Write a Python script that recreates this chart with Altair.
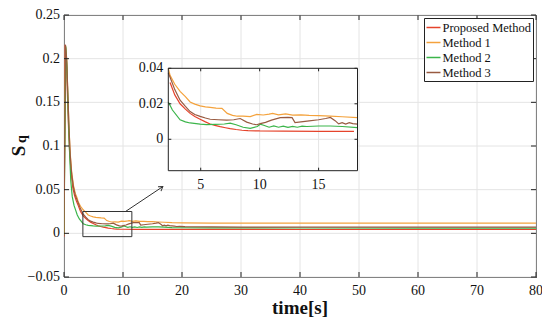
import altair as alt
import pandas as pd

# ---------------- data ----------------
SERIES = ["Proposed Method", "Method 1", "Method 2", "Method 3"]
COLORS = ["#e5432b", "#f4a23c", "#3bb54a", "#985a40"]

t_prop = [0, 0.2, 0.4, 0.6, 0.8, 1.0, 1.2, 1.5, 1.8, 2.1, 2.4, 2.8, 3.25, 3.7, 4.1, 4.5, 4.95,
          5.4, 5.8, 6.2, 6.65, 7.1, 7.5, 8.0, 8.5, 9.0, 10, 12, 15, 18, 25, 40, 60, 80]
v_prop = [-0.004, 0.216, 0.2, 0.155, 0.115, 0.088, 0.07, 0.052, 0.043, 0.037, 0.032, 0.025, 0.020,
          0.017, 0.0146, 0.0128, 0.0113, 0.0098, 0.0086, 0.0078, 0.0071, 0.0065, 0.006, 0.0055,
          0.0051, 0.0049, 0.0047, 0.0046, 0.0045, 0.0045, 0.0045, 0.0044, 0.0044, 0.0044]

t_m1 = [0, 0.25, 0.45, 0.65, 0.85, 1.05, 1.3, 1.6, 1.9, 2.25, 2.4, 2.8, 3.25, 3.7, 4.1, 4.5, 4.95,
        5.4, 5.8, 6.3, 6.8, 7.25, 7.7, 8.1, 8.6, 9.2, 9.75, 10.3, 10.8, 11.1, 11.6, 12.2, 12.8,
        13.5, 14.2, 15, 16, 17, 18.3, 20, 25, 30, 40, 60, 80]
v_m1 = [-0.002, 0.215, 0.2, 0.16, 0.12, 0.092, 0.07, 0.055, 0.046, 0.04, 0.036, 0.031, 0.027,
        0.024, 0.021, 0.0198, 0.0188, 0.0183, 0.018, 0.0176, 0.0174, 0.0146, 0.0135, 0.013,
        0.0131, 0.0128, 0.014, 0.0137, 0.0142, 0.0146, 0.0138, 0.0143, 0.0136, 0.0138, 0.0135,
        0.0133, 0.013, 0.0127, 0.0122, 0.012, 0.0118, 0.0117, 0.0117, 0.0116, 0.0116]

t_m2 = [0, 0.3, 0.5, 0.7, 0.9, 1.15, 1.4, 1.7, 2.0, 2.25, 2.6, 3.25, 3.7, 4.1, 4.95, 5.5, 6.2,
        7.0, 7.5, 8.0, 8.6, 9.2, 9.8, 10.05, 10.4, 10.8, 11.2, 11.6, 12.0, 12.4, 12.8, 13.2,
        13.6, 14, 15, 16, 17, 18.3, 20, 25, 30, 40, 60, 80]
v_m2 = [-0.002, 0.214, 0.19, 0.14, 0.1, 0.06, 0.042, 0.032, 0.026, 0.021, 0.0165, 0.011, 0.0098,
        0.0092, 0.0085, 0.0083, 0.0084, 0.0086, 0.0091, 0.0082, 0.0068, 0.0062, 0.0072, 0.0085,
        0.0078, 0.0068, 0.0075, 0.0068, 0.0074, 0.0067, 0.0073, 0.0068, 0.0074, 0.0072, 0.0075,
        0.0075, 0.0072, 0.0066, 0.0064, 0.0062, 0.0062, 0.0061, 0.006, 0.006]

t_m3 = [0, 0.25, 0.45, 0.65, 0.85, 1.05, 1.3, 1.6, 1.9, 2.25, 2.4, 2.8, 3.25, 3.7, 4.1, 4.5, 4.95,
        5.4, 5.8, 6.5, 7.2, 7.8, 8.35, 8.9, 9.4, 9.75, 10.05, 10.5, 11.0, 11.75, 12.4, 12.75, 13.0,
        13.5, 14.2, 15.0, 15.6, 16.0, 16.4, 16.7, 17.0, 17.3, 17.6, 17.9, 18.3, 18.7, 19.1, 19.6,
        20.5, 25, 30, 40, 60, 80]
v_m3 = [-0.003, 0.216, 0.2, 0.16, 0.12, 0.09, 0.068, 0.053, 0.044, 0.0375, 0.035, 0.028, 0.022,
        0.0185, 0.0156, 0.014, 0.0129, 0.012, 0.0113, 0.011, 0.0108, 0.011, 0.0117, 0.0097,
        0.0086, 0.0082, 0.0088, 0.0095, 0.0108, 0.0122, 0.0123, 0.0122, 0.0094, 0.0098, 0.0104,
        0.011, 0.0117, 0.0123, 0.0105, 0.0087, 0.0094, 0.0086, 0.0094, 0.0088, 0.0085, 0.0082,
        0.0078, 0.0080, 0.0076, 0.0074, 0.0072, 0.0072, 0.0071, 0.0071]

X_TICKS = [0, 10, 20, 30, 40, 50, 60, 70, 80]
X_LABELS = ["0", "10", "20", "30", "40", "50", "60", "70", "80"]
Y_TICKS = [-0.05, 0, 0.05, 0.1, 0.15, 0.2, 0.25]
Y_LABELS = ["\u22120.05", "0", "0.05", "0.1", "0.15", "0.2", "0.25"]
X_DOMAIN = [0, 80]
Y_DOMAIN = [-0.05, 0.25]
X_TITLE = "time[s]"

INSET_X_DOMAIN = [2.25, 18.3]
INSET_Y_DOMAIN = [-0.0177, 0.04]
INSET_X_TICKS = [5, 10, 15]
INSET_X_LABELS = ["5", "10", "15"]
INSET_Y_TICKS = [0, 0.02, 0.04]
INSET_Y_LABELS = ["0", "0.02", "0.04"]

ZOOM_BOX = [3.2, 11.5, -0.0038, 0.025]      # t0, t1, v0, v1 in main coordinates
ARROW = [10.45, 0.0251, 16.75, 0.0535]      # start t, start v, end t, end v

# ---------------- layout ----------------
W, H = 472, 262
INSET_PX = [104.3, 293.5, 155.7, 53.3]      # left, right, bottom, top inside plot area
FONT = "Liberation Serif"
TICK = 5
GRID = "#e4e4e4"
INK = "#222"

frames = []
for name, ts, vs in [("Proposed Method", t_prop, v_prop), ("Method 1", t_m1, v_m1),
                     ("Method 2", t_m2, v_m2), ("Method 3", t_m3, v_m3)]:
    frames.append(pd.DataFrame({"t": ts, "v": vs, "series": name}))
df = pd.concat(frames, ignore_index=True)
df_in = df[(df.t >= INSET_X_DOMAIN[0]) & (df.t <= INSET_X_DOMAIN[1])]

color = alt.Color("series:N", scale=alt.Scale(domain=SERIES, range=COLORS),
                  legend=alt.Legend(title=None, orient="top-right", offset=3,
                                    strokeColor=INK, fillColor="white", padding=1.5,
                                    labelFont=FONT, labelFontSize=12.5, labelColor="#111",
                                    symbolType="stroke", symbolSize=196, symbolStrokeWidth=1.5,
                                    rowPadding=0, labelOffset=1, labelLimit=300))
order_calc = "indexof(%s, datum.series)" % str(SERIES)

xs = alt.Scale(domain=X_DOMAIN, nice=False, zero=False)
ys = alt.Scale(domain=Y_DOMAIN, nice=False, zero=False)

xt = pd.DataFrame({"t": X_TICKS, "lab": X_LABELS})
yt = pd.DataFrame({"v": Y_TICKS, "lab": Y_LABELS})

grid_x = alt.Chart(xt).mark_rule(color=GRID, strokeWidth=1).encode(
    x=alt.X("t:Q", scale=xs, axis=None), y=alt.value(0), y2=alt.value(H))
grid_y = alt.Chart(yt).mark_rule(color=GRID, strokeWidth=1).encode(
    y=alt.Y("v:Q", scale=ys, axis=None), x=alt.value(0), x2=alt.value(W))

main_lines = alt.Chart(df).mark_line(strokeWidth=1.2, clip=True).encode(
    x=alt.X("t:Q", scale=xs, axis=None),
    y=alt.Y("v:Q", scale=ys, axis=None),
    color=color,
    order=alt.Order("series_order:Q"),
).transform_calculate(series_order=order_calc)

tick_style = dict(color=INK, strokeWidth=1)
xtick_b = alt.Chart(xt).mark_rule(**tick_style).encode(
    x=alt.X("t:Q", scale=xs, axis=None), y=alt.value(H), y2=alt.value(H - TICK))
xtick_t = alt.Chart(xt).mark_rule(**tick_style).encode(
    x=alt.X("t:Q", scale=xs, axis=None), y=alt.value(0), y2=alt.value(TICK))
ytick_l = alt.Chart(yt).mark_rule(**tick_style).encode(
    y=alt.Y("v:Q", scale=ys, axis=None), x=alt.value(0), x2=alt.value(TICK))
ytick_r = alt.Chart(yt).mark_rule(**tick_style).encode(
    y=alt.Y("v:Q", scale=ys, axis=None), x=alt.value(W), x2=alt.value(W - TICK))

label_style = dict(font=FONT, fontSize=14, color="#111")
xlab = alt.Chart(xt).mark_text(baseline="top", align="center", **label_style).encode(
    x=alt.X("t:Q", scale=xs, axis=None), y=alt.value(H + 7), text="lab:N")
ylab = alt.Chart(yt).mark_text(baseline="middle", align="right", **label_style).encode(
    y=alt.Y("v:Q", scale=ys, axis=None), x=alt.value(-4), text="lab:N")
xtitle = alt.Chart(pd.DataFrame({"lab": [X_TITLE]})).mark_text(
    font=FONT, fontSize=19, fontWeight="bold", color="#111", baseline="top", align="center").encode(
    x=alt.value(W / 2), y=alt.value(H + 22), text="lab:N")

zb = pd.DataFrame({"t0": [ZOOM_BOX[0]], "t1": [ZOOM_BOX[1]], "v0": [ZOOM_BOX[2]], "v1": [ZOOM_BOX[3]]})
zoombox = alt.Chart(zb).mark_rect(fill=None, stroke="#333", strokeWidth=1).encode(
    x=alt.X("t0:Q", scale=xs, axis=None), x2="t1:Q",
    y=alt.Y("v0:Q", scale=ys, axis=None), y2="v1:Q")

ar = pd.DataFrame({"t0": [ARROW[0]], "v0": [ARROW[1]], "t1": [ARROW[2]], "v1": [ARROW[3]]})
arrow_line = alt.Chart(ar).mark_rule(color="#333", strokeWidth=1).encode(
    x=alt.X("t0:Q", scale=xs, axis=None), x2="t1:Q",
    y=alt.Y("v0:Q", scale=ys, axis=None), y2="v1:Q")
arrow_head = alt.Chart(ar).mark_point(shape="M -0.8 1.2 L 0 0 L 0.8 1.2", filled=False,
                                      color="#333", strokeWidth=1, size=45, angle=56, opacity=1).encode(
    x=alt.X("t1:Q", scale=xs, axis=None), y=alt.Y("v1:Q", scale=ys, axis=None))

s_text = alt.Chart(pd.DataFrame({"lab": ["S"]})).mark_text(
    font=FONT, fontSize=19, fontWeight="bold", angle=270, align="center", baseline="middle",
    color="#111").encode(text="lab:N", x=alt.value(-45), y=alt.value(136))
q_text = alt.Chart(pd.DataFrame({"lab": ["q"]})).mark_text(
    font=FONT, fontSize=14, fontWeight="bold", angle=270, align="center", baseline="middle",
    color="#111").encode(text="lab:N", x=alt.value(-42), y=alt.value(124))

main = alt.layer(grid_x, grid_y, main_lines, xtick_b, xtick_t, ytick_l, ytick_r, xlab, ylab,
                 xtitle, zoombox, arrow_line, arrow_head, s_text, q_text)

# ---------------- inset ----------------
ixs = alt.Scale(domain=INSET_X_DOMAIN, range=[INSET_PX[0], INSET_PX[1]], nice=False, zero=False)
iys = alt.Scale(domain=INSET_Y_DOMAIN, range=[INSET_PX[2], INSET_PX[3]], nice=False, zero=False)

ib = pd.DataFrame({"x0": [INSET_X_DOMAIN[0]], "x1": [INSET_X_DOMAIN[1]],
                   "y0": [INSET_Y_DOMAIN[0]], "y1": [INSET_Y_DOMAIN[1]]})
inset_bg = alt.Chart(ib).mark_rect(fill="white", stroke=None).encode(
    x=alt.X("x0:Q", scale=ixs, axis=None), x2="x1:Q",
    y=alt.Y("y0:Q", scale=iys, axis=None), y2="y1:Q")
inset_frame = alt.Chart(ib).mark_rect(fill=None, stroke=INK, strokeWidth=1).encode(
    x=alt.X("x0:Q", scale=ixs, axis=None), x2="x1:Q",
    y=alt.Y("y0:Q", scale=iys, axis=None), y2="y1:Q")

ixt = pd.DataFrame({"t": INSET_X_TICKS, "lab": INSET_X_LABELS})
iyt = pd.DataFrame({"v": INSET_Y_TICKS, "lab": INSET_Y_LABELS})
igx = alt.Chart(ixt).mark_rule(color=GRID, strokeWidth=1).encode(
    x=alt.X("t:Q", scale=ixs, axis=None), y=alt.value(INSET_PX[2]), y2=alt.value(INSET_PX[3]))
igy = alt.Chart(iyt).mark_rule(color=GRID, strokeWidth=1).encode(
    y=alt.Y("v:Q", scale=iys, axis=None), x=alt.value(INSET_PX[0]), x2=alt.value(INSET_PX[1]))
itx_b = alt.Chart(ixt).mark_rule(**tick_style).encode(
    x=alt.X("t:Q", scale=ixs, axis=None), y=alt.value(INSET_PX[2]), y2=alt.value(INSET_PX[2] - 3))
itx_t = alt.Chart(ixt).mark_rule(**tick_style).encode(
    x=alt.X("t:Q", scale=ixs, axis=None), y=alt.value(INSET_PX[3]), y2=alt.value(INSET_PX[3] + 3))
ity_l = alt.Chart(iyt).mark_rule(**tick_style).encode(
    y=alt.Y("v:Q", scale=iys, axis=None), x=alt.value(INSET_PX[0]), x2=alt.value(INSET_PX[0] + 3))
ity_r = alt.Chart(iyt).mark_rule(**tick_style).encode(
    y=alt.Y("v:Q", scale=iys, axis=None), x=alt.value(INSET_PX[1]), x2=alt.value(INSET_PX[1] - 3))
ixlab = alt.Chart(ixt).mark_text(baseline="top", align="center", **label_style).encode(
    x=alt.X("t:Q", scale=ixs, axis=None), y=alt.value(INSET_PX[2] + 7), text="lab:N")
iylab = alt.Chart(iyt).mark_text(baseline="middle", align="right", **label_style).encode(
    y=alt.Y("v:Q", scale=iys, axis=None), x=alt.value(INSET_PX[0] - 5), text="lab:N")

inset_lines = alt.Chart(df_in).mark_line(strokeWidth=1.2).encode(
    x=alt.X("t:Q", scale=ixs, axis=None),
    y=alt.Y("v:Q", scale=iys, axis=None),
    color=color,
    order=alt.Order("series_order:Q"),
).transform_calculate(series_order=order_calc)

inset = alt.layer(inset_bg, igx, igy, inset_lines, itx_b, itx_t, ity_l, ity_r, inset_frame,
                  ixlab, iylab)

chart = alt.layer(main, inset).resolve_scale(
    x="independent", y="independent").properties(
    width=W, height=H, autosize=alt.AutoSizeParams(type="none"),
    padding={"left": 56, "top": 7, "right": 6, "bottom": 40},
    background="white",
).configure_view(stroke=INK, strokeWidth=1)

chart.save("out.html", embed_options={"renderer": "svg", "actions": False})
